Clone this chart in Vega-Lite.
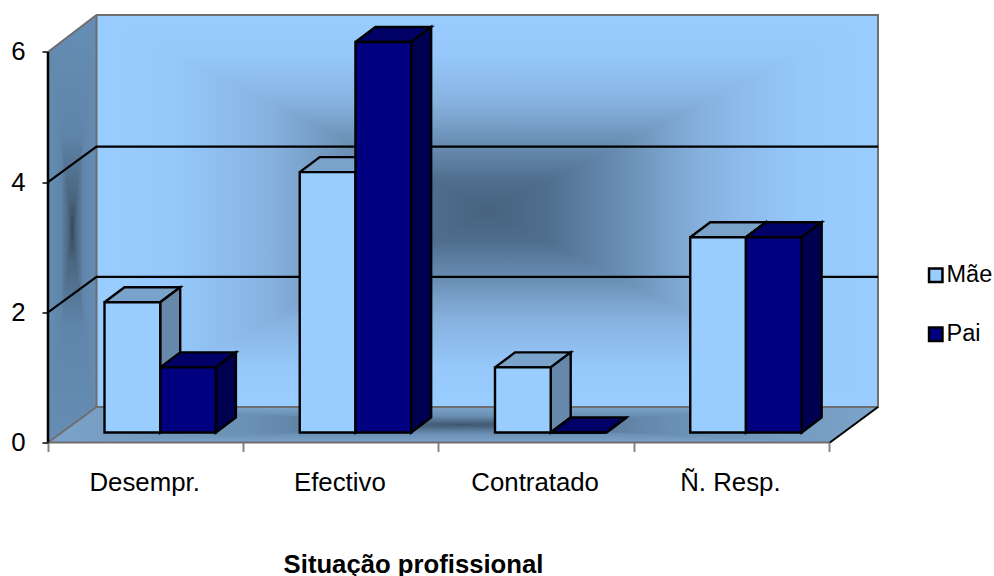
{
"$schema":"https://vega.github.io/schema/vega-lite/v6.json",
"width":830,"height":427,"autosize":"none",
"padding":{"left":48,"top":15.5,"right":116,"bottom":133.5},
"background":"white",
"config":{"view":{"stroke":null},"font":"Liberation Sans"},
"datasets":{
"bars":[
{"cat":"Desempr.","serie":"Mãe","value":2},{"cat":"Desempr.","serie":"Pai","value":1},
{"cat":"Efectivo","serie":"Mãe","value":4},{"cat":"Efectivo","serie":"Pai","value":6},
{"cat":"Contratado","serie":"Mãe","value":1},{"cat":"Contratado","serie":"Pai","value":0},
{"cat":"Ñ. Resp.","serie":"Mãe","value":3},{"cat":"Ñ. Resp.","serie":"Pai","value":3}],
"walls":[
{"p":"bt","i":0,"x":0.2484,"y":6.567},{"p":"bt","i":1,"x":4.251,"y":6.567},{"p":"bt","i":2,"x":2.2497,"y":3.556},{"p":"bt","i":3,"x":0.2484,"y":6.567},
{"p":"bb","i":0,"x":0.2484,"y":0.5453},{"p":"bb","i":1,"x":4.251,"y":0.5453},{"p":"bb","i":2,"x":2.2497,"y":3.556},{"p":"bb","i":3,"x":0.2484,"y":0.5453},
{"p":"bl","i":0,"x":0.2484,"y":6.567},{"p":"bl","i":1,"x":0.2484,"y":0.5453},{"p":"bl","i":2,"x":2.2497,"y":3.556},{"p":"bl","i":3,"x":0.2484,"y":6.567},
{"p":"br","i":0,"x":4.251,"y":6.567},{"p":"br","i":1,"x":4.251,"y":0.5453},{"p":"br","i":2,"x":2.2497,"y":3.556},{"p":"br","i":3,"x":4.251,"y":6.567},
{"p":"lt","i":0,"x":0,"y":6},{"p":"lt","i":1,"x":0.2484,"y":6.567},{"p":"lt","i":2,"x":0.1242,"y":3.278},{"p":"lt","i":3,"x":0,"y":6},
{"p":"lb","i":0,"x":0,"y":0},{"p":"lb","i":1,"x":0.2484,"y":0.5453},{"p":"lb","i":2,"x":0.1242,"y":3.278},{"p":"lb","i":3,"x":0,"y":0},
{"p":"ll","i":0,"x":0,"y":6},{"p":"ll","i":1,"x":0,"y":0},{"p":"ll","i":2,"x":0.1242,"y":3.278},{"p":"ll","i":3,"x":0,"y":6},
{"p":"lr","i":0,"x":0.2484,"y":6.567},{"p":"lr","i":1,"x":0.2484,"y":0.5453},{"p":"lr","i":2,"x":0.1242,"y":3.278},{"p":"lr","i":3,"x":0.2484,"y":6.567},
{"p":"ft","i":0,"x":0.2484,"y":0.5453},{"p":"ft","i":1,"x":4.251,"y":0.5453},{"p":"ft","i":2,"x":2.127,"y":0.2727},{"p":"ft","i":3,"x":0.2484,"y":0.5453},
{"p":"fb","i":0,"x":0,"y":0},{"p":"fb","i":1,"x":4.005,"y":0},{"p":"fb","i":2,"x":2.127,"y":0.2727},{"p":"fb","i":3,"x":0,"y":0},
{"p":"fl","i":0,"x":0,"y":0},{"p":"fl","i":1,"x":0.2484,"y":0.5453},{"p":"fl","i":2,"x":2.127,"y":0.2727},{"p":"fl","i":3,"x":0,"y":0},
{"p":"fr","i":0,"x":4.005,"y":0},{"p":"fr","i":1,"x":4.251,"y":0.5453},{"p":"fr","i":2,"x":2.127,"y":0.2727},{"p":"fr","i":3,"x":4.005,"y":0}],
"edges":[
{"e":"g2","i":0,"x":0,"y":2},{"e":"g2","i":1,"x":0.2484,"y":2.5453},{"e":"g2","i":2,"x":4.251,"y":2.5453},
{"e":"g4","i":0,"x":0,"y":4},{"e":"g4","i":1,"x":0.2484,"y":4.5453},{"e":"g4","i":2,"x":4.251,"y":4.5453}],
"frame":[
{"e":"top","i":0,"x":0,"y":6},{"e":"top","i":1,"x":0.2484,"y":6.567},{"e":"top","i":2,"x":4.251,"y":6.567},{"e":"top","i":3,"x":4.251,"y":0.5453},{"e":"top","i":4,"x":0.2484,"y":0.5453},{"e":"top","i":5,"x":0.2484,"y":6.567},
{"e":"floorL","i":0,"x":0,"y":0},{"e":"floorL","i":1,"x":0.2484,"y":0.5453},
{"e":"floorF","i":0,"x":0,"y":0},{"e":"floorF","i":1,"x":4.005,"y":0}],
"frame2":[
{"e":"floorR","i":0,"x":4.005,"y":0},{"e":"floorR","i":1,"x":4.251,"y":0.5453}]
},
"encoding":{
"x":{"field":"x","type":"quantitative","scale":{"domain":[0,4.251],"nice":false,"zero":false},
 "axis":{"values":[0,0.5,1,1.5,2,2.5,3,3.5,4],"title":"Situação profissional","titleFont":"Liberation Sans","titleFontSize":25.7,"titleFontWeight":"bold","titleColor":"black","titleX":365,"titleY":130,"titleBaseline":"alphabetic","titleAnchor":"middle","titleAlign":"center",
  "domain":false,"grid":false,"tickColor":"#868686","tickWidth":2,"tickSize":9,"tickOpacity":{"condition":{"test":"datum.value%1==0","value":1},"value":0},
  "labelFontSize":25.8,"labelColor":"black","labelPadding":19,"labelOverlap":false,"labelOffset":-1.5,"labelFlush":false,"labelBound":false,
  "labelExpr":"datum.value==0.5?'Desempr.':datum.value==1.5?'Efectivo':datum.value==2.5?'Contratado':datum.value==3.5?'Ñ. Resp.':''"}},
"y":{"field":"y","type":"quantitative","scale":{"domain":[0,6.56],"nice":false,"zero":false},
 "axis":{"values":[0,2,4,6],"title":null,"domain":false,"grid":false,"tickColor":"black","tickWidth":1.5,"tickSize":6,"labelFontSize":25.8,"labelColor":"black","labelPadding":17,"format":"d"}},
"order":{"field":"i","type":"quantitative"},
"detail":{"field":"p"}
},
"layer":[
{"data":{"name":"walls"},"transform":[{"filter":"datum.p=='bt'"}],"mark":{"type":"line","strokeWidth":1,"stroke":{"gradient":"linear","x1":0,"y1":0,"x2":0,"y2":1,"stops":[{"offset":0,"color":"#99CCFF"},{"offset":0.2,"color":"#96c8fb"},{"offset":0.45,"color":"#86b1de"},{"offset":0.65,"color":"#6a8fb4"},{"offset":0.85,"color":"#4f6e8e"},{"offset":1,"color":"#46627e"}]},"fill":{"gradient":"linear","x1":0,"y1":0,"x2":0,"y2":1,"stops":[{"offset":0,"color":"#99CCFF"},{"offset":0.2,"color":"#96c8fb"},{"offset":0.45,"color":"#86b1de"},{"offset":0.65,"color":"#6a8fb4"},{"offset":0.85,"color":"#4f6e8e"},{"offset":1,"color":"#46627e"}]}}},
{"data":{"name":"walls"},"transform":[{"filter":"datum.p=='bb'"}],"mark":{"type":"line","strokeWidth":1,"stroke":{"gradient":"linear","x1":0,"y1":1,"x2":0,"y2":0,"stops":[{"offset":0,"color":"#99CCFF"},{"offset":0.2,"color":"#96c8fb"},{"offset":0.45,"color":"#86b1de"},{"offset":0.65,"color":"#6a8fb4"},{"offset":0.85,"color":"#4f6e8e"},{"offset":1,"color":"#46627e"}]},"fill":{"gradient":"linear","x1":0,"y1":1,"x2":0,"y2":0,"stops":[{"offset":0,"color":"#99CCFF"},{"offset":0.2,"color":"#96c8fb"},{"offset":0.45,"color":"#86b1de"},{"offset":0.65,"color":"#6a8fb4"},{"offset":0.85,"color":"#4f6e8e"},{"offset":1,"color":"#46627e"}]}}},
{"data":{"name":"walls"},"transform":[{"filter":"datum.p=='bl'"}],"mark":{"type":"line","strokeWidth":1,"stroke":{"gradient":"linear","x1":0,"y1":0,"x2":1,"y2":0,"stops":[{"offset":0,"color":"#99CCFF"},{"offset":0.2,"color":"#96c8fb"},{"offset":0.45,"color":"#86b1de"},{"offset":0.65,"color":"#6a8fb4"},{"offset":0.85,"color":"#4f6e8e"},{"offset":1,"color":"#46627e"}]},"fill":{"gradient":"linear","x1":0,"y1":0,"x2":1,"y2":0,"stops":[{"offset":0,"color":"#99CCFF"},{"offset":0.2,"color":"#96c8fb"},{"offset":0.45,"color":"#86b1de"},{"offset":0.65,"color":"#6a8fb4"},{"offset":0.85,"color":"#4f6e8e"},{"offset":1,"color":"#46627e"}]}}},
{"data":{"name":"walls"},"transform":[{"filter":"datum.p=='br'"}],"mark":{"type":"line","strokeWidth":1,"stroke":{"gradient":"linear","x1":1,"y1":0,"x2":0,"y2":0,"stops":[{"offset":0,"color":"#99CCFF"},{"offset":0.2,"color":"#96c8fb"},{"offset":0.45,"color":"#86b1de"},{"offset":0.65,"color":"#6a8fb4"},{"offset":0.85,"color":"#4f6e8e"},{"offset":1,"color":"#46627e"}]},"fill":{"gradient":"linear","x1":1,"y1":0,"x2":0,"y2":0,"stops":[{"offset":0,"color":"#99CCFF"},{"offset":0.2,"color":"#96c8fb"},{"offset":0.45,"color":"#86b1de"},{"offset":0.65,"color":"#6a8fb4"},{"offset":0.85,"color":"#4f6e8e"},{"offset":1,"color":"#46627e"}]}}},
{"data":{"name":"walls"},"transform":[{"filter":"datum.p=='lt'"}],"mark":{"type":"line","strokeWidth":1,"stroke":{"gradient":"linear","x1":0,"y1":0,"x2":0,"y2":1,"stops":[{"offset":0,"color":"#668db3"},{"offset":0.55,"color":"#5f85aa"},{"offset":0.85,"color":"#4a6680"},{"offset":1,"color":"#38495a"}]},"fill":{"gradient":"linear","x1":0,"y1":0,"x2":0,"y2":1,"stops":[{"offset":0,"color":"#668db3"},{"offset":0.55,"color":"#5f85aa"},{"offset":0.85,"color":"#4a6680"},{"offset":1,"color":"#38495a"}]}}},
{"data":{"name":"walls"},"transform":[{"filter":"datum.p=='lb'"}],"mark":{"type":"line","strokeWidth":1,"stroke":{"gradient":"linear","x1":0,"y1":1,"x2":0,"y2":0,"stops":[{"offset":0,"color":"#668db3"},{"offset":0.55,"color":"#5f85aa"},{"offset":0.85,"color":"#4a6680"},{"offset":1,"color":"#38495a"}]},"fill":{"gradient":"linear","x1":0,"y1":1,"x2":0,"y2":0,"stops":[{"offset":0,"color":"#668db3"},{"offset":0.55,"color":"#5f85aa"},{"offset":0.85,"color":"#4a6680"},{"offset":1,"color":"#38495a"}]}}},
{"data":{"name":"walls"},"transform":[{"filter":"datum.p=='ll'"}],"mark":{"type":"line","strokeWidth":1,"stroke":{"gradient":"linear","x1":0,"y1":0,"x2":1,"y2":0,"stops":[{"offset":0,"color":"#668db3"},{"offset":0.55,"color":"#5f85aa"},{"offset":0.85,"color":"#4a6680"},{"offset":1,"color":"#38495a"}]},"fill":{"gradient":"linear","x1":0,"y1":0,"x2":1,"y2":0,"stops":[{"offset":0,"color":"#668db3"},{"offset":0.55,"color":"#5f85aa"},{"offset":0.85,"color":"#4a6680"},{"offset":1,"color":"#38495a"}]}}},
{"data":{"name":"walls"},"transform":[{"filter":"datum.p=='lr'"}],"mark":{"type":"line","strokeWidth":1,"stroke":{"gradient":"linear","x1":1,"y1":0,"x2":0,"y2":0,"stops":[{"offset":0,"color":"#668db3"},{"offset":0.55,"color":"#5f85aa"},{"offset":0.85,"color":"#4a6680"},{"offset":1,"color":"#38495a"}]},"fill":{"gradient":"linear","x1":1,"y1":0,"x2":0,"y2":0,"stops":[{"offset":0,"color":"#668db3"},{"offset":0.55,"color":"#5f85aa"},{"offset":0.85,"color":"#4a6680"},{"offset":1,"color":"#38495a"}]}}},
{"data":{"name":"walls"},"transform":[{"filter":"datum.p=='ft'"}],"mark":{"type":"line","strokeWidth":1,"stroke":{"gradient":"linear","x1":0,"y1":0,"x2":0,"y2":1,"stops":[{"offset":0,"color":"#7ca3c9"},{"offset":0.5,"color":"#6a8fb4"},{"offset":1,"color":"#3f5870"}]},"fill":{"gradient":"linear","x1":0,"y1":0,"x2":0,"y2":1,"stops":[{"offset":0,"color":"#7ca3c9"},{"offset":0.5,"color":"#6a8fb4"},{"offset":1,"color":"#3f5870"}]}}},
{"data":{"name":"walls"},"transform":[{"filter":"datum.p=='fb'"}],"mark":{"type":"line","strokeWidth":1,"stroke":{"gradient":"linear","x1":0,"y1":1,"x2":0,"y2":0,"stops":[{"offset":0,"color":"#7ca3c9"},{"offset":0.5,"color":"#6a8fb4"},{"offset":1,"color":"#3f5870"}]},"fill":{"gradient":"linear","x1":0,"y1":1,"x2":0,"y2":0,"stops":[{"offset":0,"color":"#7ca3c9"},{"offset":0.5,"color":"#6a8fb4"},{"offset":1,"color":"#3f5870"}]}}},
{"data":{"name":"walls"},"transform":[{"filter":"datum.p=='fl'"}],"mark":{"type":"line","strokeWidth":1,"stroke":{"gradient":"linear","x1":0,"y1":0,"x2":1,"y2":0,"stops":[{"offset":0,"color":"#7ca3c9"},{"offset":0.5,"color":"#6a8fb4"},{"offset":1,"color":"#3f5870"}]},"fill":{"gradient":"linear","x1":0,"y1":0,"x2":1,"y2":0,"stops":[{"offset":0,"color":"#7ca3c9"},{"offset":0.5,"color":"#6a8fb4"},{"offset":1,"color":"#3f5870"}]}}},
{"data":{"name":"walls"},"transform":[{"filter":"datum.p=='fr'"}],"mark":{"type":"line","strokeWidth":1,"stroke":{"gradient":"linear","x1":1,"y1":0,"x2":0,"y2":0,"stops":[{"offset":0,"color":"#7ca3c9"},{"offset":0.5,"color":"#6a8fb4"},{"offset":1,"color":"#3f5870"}]},"fill":{"gradient":"linear","x1":1,"y1":0,"x2":0,"y2":0,"stops":[{"offset":0,"color":"#7ca3c9"},{"offset":0.5,"color":"#6a8fb4"},{"offset":1,"color":"#3f5870"}]}}},
{"data":{"name":"frame"},"mark":{"type":"line","stroke":"#6e6e6e","strokeWidth":2},"encoding":{"detail":{"field":"e"}}},
{"data":{"name":"frame2"},"mark":{"type":"line","stroke":"#000000","strokeWidth":2},"encoding":{"detail":{"field":"e"}}},
{"data":{"name":"edges"},"mark":{"type":"line","stroke":"#000000","strokeWidth":2.2},"encoding":{"detail":{"field":"e"}}},
{"data":{"values":[{"x":0,"y":0,"y2":6}]},"mark":{"type":"rule","stroke":"black","strokeWidth":2.5},"encoding":{"y2":{"field":"y2"},"detail":{"value":null},"order":{"value":null}}},
{"data":{"name":"bars"},"transform":[
 {"filter":"datum.serie=='Mãe'"},
 {"calculate":"indexof(['Desempr.','Efectivo','Contratado','Ñ. Resp.'],datum.cat)+0.2894","as":"x0"},
 {"calculate":"datum.x0+0.2853","as":"x1"},{"calculate":"datum.value+0.1536","as":"t"},
 {"calculate":"[0,1,2,3,4]","as":"i"},{"flatten":["i"]},
 {"calculate":"[datum.x0,datum.x1,datum.x1+0.1024,datum.x0+0.1024,datum.x0][datum.i]","as":"x"},
 {"calculate":"[datum.t,datum.t,datum.t+0.2304,datum.t+0.2304,datum.t][datum.i]","as":"y"}],
 "mark":{"type":"line","fill":"#7aa3cc","stroke":"black","strokeWidth":2.4},"encoding":{"detail":{"field":"cat"}}},
{"data":{"name":"bars"},"transform":[
 {"filter":"datum.serie=='Mãe'"},
 {"calculate":"indexof(['Desempr.','Efectivo','Contratado','Ñ. Resp.'],datum.cat)+0.2894+0.2853","as":"x1"},{"calculate":"datum.value+0.1536","as":"t"},
 {"calculate":"[0,1,2,3,4]","as":"i"},{"flatten":["i"]},
 {"calculate":"[datum.x1,datum.x1+0.1024,datum.x1+0.1024,datum.x1,datum.x1][datum.i]","as":"x"},
 {"calculate":"[datum.t,datum.t+0.2304,0.384,0.1536,datum.t][datum.i]","as":"y"}],
 "mark":{"type":"line","fill":"#6588ab","stroke":"black","strokeWidth":2.4},"encoding":{"detail":{"field":"cat"}}},
{"data":{"name":"bars"},"transform":[
 {"filter":"datum.serie=='Mãe'"},
 {"calculate":"indexof(['Desempr.','Efectivo','Contratado','Ñ. Resp.'],datum.cat)+0.2894","as":"x"},
 {"calculate":"datum.x+0.2853","as":"x2"},{"calculate":"datum.value+0.1536","as":"y"},{"calculate":"0.1536","as":"y2"}],
 "mark":{"type":"rect","stroke":"black","strokeWidth":2.4},
 "encoding":{"x2":{"field":"x2"},"y2":{"field":"y2"},"order":{"value":null},"detail":{"value":null},
  "fill":{"field":"serie","type":"nominal","scale":{"domain":["Mãe","Pai"],"range":["#99CCFF","#000080"]},
   "legend":{"orient":"none","legendX":876,"legendY":248,"title":null,"symbolType":"square","symbolSize":180,"symbolStrokeColor":"black","symbolStrokeWidth":2.5,"labelFontSize":23.5,"labelColor":"black","rowPadding":34,"labelOffset":-1}}}},
{"data":{"name":"bars"},"transform":[
 {"filter":"datum.serie=='Pai'"},
 {"calculate":"indexof(['Desempr.','Efectivo','Contratado','Ñ. Resp.'],datum.cat)+0.2894+0.2853","as":"x0"},
 {"calculate":"datum.x0+0.2853","as":"x1"},{"calculate":"datum.value+0.1536","as":"t"},
 {"calculate":"[0,1,2,3,4]","as":"i"},{"flatten":["i"]},
 {"calculate":"[datum.x0,datum.x1,datum.x1+0.1024,datum.x0+0.1024,datum.x0][datum.i]","as":"x"},
 {"calculate":"[datum.t,datum.t,datum.t+0.2304,datum.t+0.2304,datum.t][datum.i]","as":"y"}],
 "mark":{"type":"line","fill":"#000066","stroke":"black","strokeWidth":2.4},"encoding":{"detail":{"field":"cat"}}},
{"data":{"name":"bars"},"transform":[
 {"filter":"datum.serie=='Pai'"},
 {"calculate":"indexof(['Desempr.','Efectivo','Contratado','Ñ. Resp.'],datum.cat)+0.2894+0.5706","as":"x1"},{"calculate":"datum.value+0.1536","as":"t"},
 {"calculate":"[0,1,2,3,4]","as":"i"},{"flatten":["i"]},
 {"calculate":"[datum.x1,datum.x1+0.1024,datum.x1+0.1024,datum.x1,datum.x1][datum.i]","as":"x"},
 {"calculate":"[datum.t,datum.t+0.2304,0.384,0.1536,datum.t][datum.i]","as":"y"}],
 "mark":{"type":"line","fill":"#000050","stroke":"black","strokeWidth":2.4},"encoding":{"detail":{"field":"cat"}}},
{"data":{"name":"bars"},"transform":[
 {"filter":"datum.serie=='Pai'"},
 {"calculate":"indexof(['Desempr.','Efectivo','Contratado','Ñ. Resp.'],datum.cat)+0.2894+0.2853","as":"x"},
 {"calculate":"datum.x+0.2853","as":"x2"},{"calculate":"datum.value+0.1536","as":"y"},{"calculate":"0.1536","as":"y2"}],
 "mark":{"type":"rect","stroke":"black","strokeWidth":2.4},
 "encoding":{"x2":{"field":"x2"},"y2":{"field":"y2"},"order":{"value":null},"detail":{"value":null},
  "fill":{"field":"serie","type":"nominal"}}}
]
}
